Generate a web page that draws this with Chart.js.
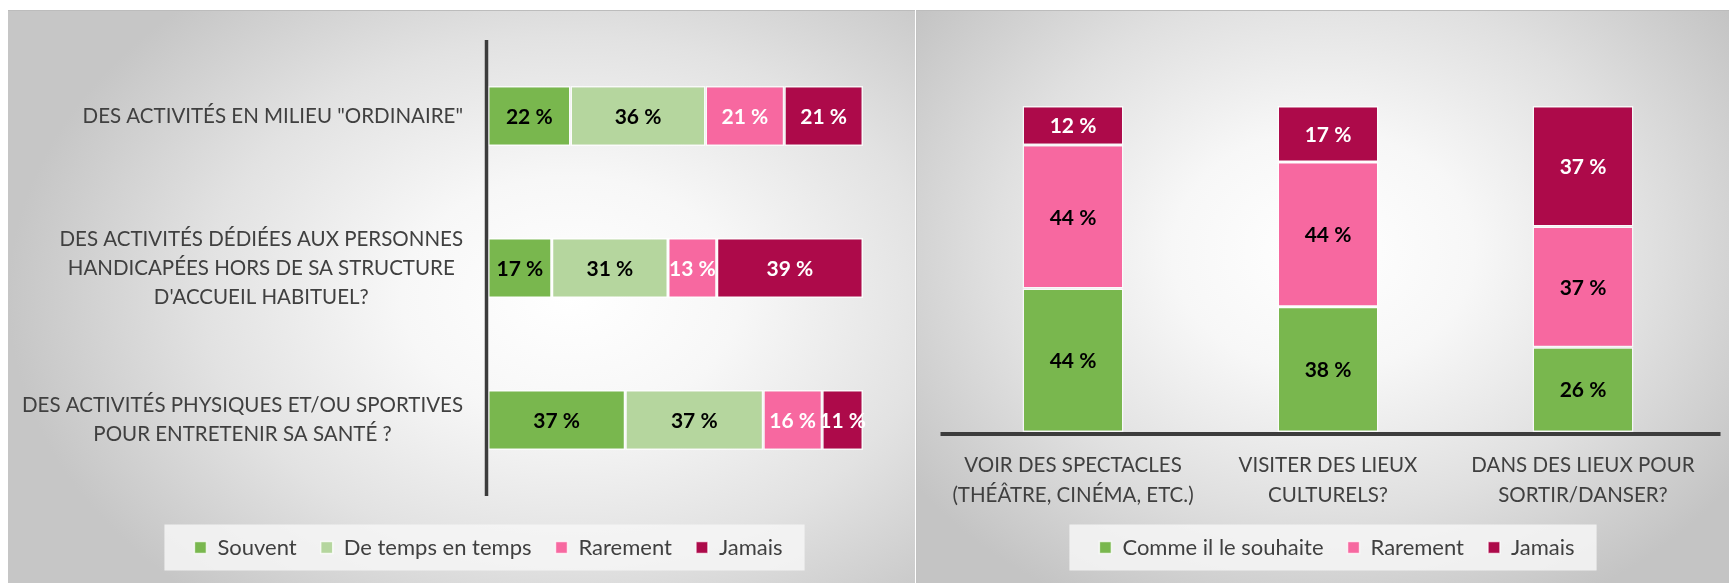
<!DOCTYPE html>
<html>
<head>
<meta charset="utf-8">
<script src="https://cdn.jsdelivr.net/npm/chart.js@4.4.0/dist/chart.umd.min.js"></script>
<style>
  html, body { margin: 0; padding: 0; background: #fff; }
  body { width: 1729px; height: 583px; position: relative; overflow: hidden; }
  .panel { position: absolute; top: 10px; height: 573px; border-top: 1px solid #bcbcbc; box-sizing: border-box; overflow: hidden; }
  #p1 { left: 8px; width: 907px; background: radial-gradient(ellipse 62% 70% at 62% 50%, #ffffff 0%, #f7f7f7 30%, #e2e2e2 65%, #c6c6c6 100%); }
  #p2 { left: 916px; width: 813px; background: radial-gradient(ellipse 62% 70% at 50% 42%, #ffffff 0%, #f7f7f7 30%, #e0e0e0 65%, #c4c4c4 100%); border-left: 1px solid #c2c2c2; }
  canvas { position: absolute; left: 0; top: 0; }
</style>
</head>
<body>
<div class="panel" id="p1"><canvas id="graf1"></canvas></div>
<div class="panel" id="p2"><canvas id="graf2"></canvas></div>
<script>
// -------------------- données --------------------
const activites = [
  'DES ACTIVITÉS EN MILIEU "ORDINAIRE"',
  ['DES ACTIVITÉS DÉDIÉES AUX PERSONNES', 'HANDICAPÉES HORS DE SA STRUCTURE', "D'ACCUEIL HABITUEL?"],
  ['DES ACTIVITÉS PHYSIQUES ET/OU SPORTIVES', 'POUR ENTRETENIR SA SANTÉ ?']
];
const souvent = [22, 17, 36.6];
const deTempsEnTemps = [36, 31, 36.8];
const rarement1 = [21, 13, 15.7];
const jamais1 = [21, 39, 10.9];

const sorties = [
  ['VOIR DES SPECTACLES', '(THÉÂTRE, CINÉMA, ETC.)'],
  ['VISITER DES LIEUX', 'CULTURELS?'],
  ['DANS DES LIEUX POUR', 'SORTIR/DANSER?']
];
const commeIlLeSouhaite = [44, 38.4, 26];
const rarement2 = [44, 44.4, 37];
const jamais2 = [12, 17.2, 37];

// couleurs
const VERT = '#79b74e', VERT_CLAIR = '#b5d69e', ROSE = '#f768a0', BORDEAUX = '#ad0a4a';
const TEXTE = '#404040';

Chart.defaults.font.family = 'Lato, "Open Sans", sans-serif';
Chart.defaults.color = TEXTE;
Chart.defaults.animation = false;

function setSize(id, w, h) {
  const c = document.getElementById(id);
  c.width = w; c.height = h;
  c.style.width = w + 'px'; c.style.height = h + 'px';
  return c;
}

// étiquettes de valeur au centre des barres
const valeurs = {
  id: 'valeurs',
  afterDatasetsDraw(chart) {
    const ctx = chart.ctx;
    ctx.save();
    ctx.font = 'bold 21px Lato, sans-serif';
    ctx.textAlign = 'center';
    ctx.textBaseline = 'middle';
    chart.data.datasets.forEach((ds, i) => {
      const meta = chart.getDatasetMeta(i);
      meta.data.forEach((bar, j) => {
        const p = bar.getCenterPoint();
        ctx.fillStyle = ds.labelColor;
        ctx.fillText(Math.round(ds.data[j]) + ' %', p.x, p.y + 1);
      });
    });
    ctx.restore();
  }
};

// fond de la légende
const fondLegende = {
  id: 'fondLegende',
  beforeDraw(chart) {
    const lg = chart.legend;
    if (!lg || !lg.legendHitBoxes.length) return;
    const hb = lg.legendHitBoxes;
    const x0 = hb[0].left - 30;
    const x1 = hb[hb.length - 1].left + hb[hb.length - 1].width + 22;
    const yc = hb[0].top + hb[0].height / 2;
    const ctx = chart.ctx;
    ctx.save();
    ctx.fillStyle = 'rgba(246,246,246,0.85)';
    ctx.fillRect(x0, yc - 23, x1 - x0, 46);
    ctx.restore();
  }
};

// -------------------- graphique 1 : barres horizontales --------------------
const axeVertical = {
  id: 'axeVertical',
  afterDatasetsDraw(chart) {
    const a = chart.chartArea, ctx = chart.ctx;
    ctx.save();
    ctx.strokeStyle = '#3c3c3c';
    ctx.lineWidth = 3.5;
    ctx.beginPath();
    ctx.moveTo(a.left - 1.5, a.top);
    ctx.lineTo(a.left - 1.5, a.bottom);
    ctx.stroke();
    ctx.restore();
  }
};

const libellesBloc = {
  id: 'libellesBloc',
  afterDraw(chart) {
    const ctx = chart.ctx, y = chart.scales.y, a = chart.chartArea;
    ctx.save();
    ctx.font = '20.5px Lato, sans-serif';
    ctx.fillStyle = TEXTE;
    ctx.textAlign = 'center';
    ctx.textBaseline = 'middle';
    chart.data.labels.forEach((lab, i) => {
      const lignes = Array.isArray(lab) ? lab : [lab];
      const large = Math.max(...lignes.map(l => ctx.measureText(l).width));
      const cx = a.left - 25 - large / 2;
      const cy = y.getPixelForValue(i);
      lignes.forEach((l, k) => {
        ctx.fillText(l, cx, cy + (k - (lignes.length - 1) / 2) * 29);
      });
    });
    ctx.restore();
  }
};

setSize('graf1', 907, 573);
new Chart(document.getElementById('graf1'), {
  type: 'bar',
  data: {
    labels: activites,
    datasets: [
      { label: 'Souvent', data: souvent, backgroundColor: VERT, labelColor: '#000' },
      { label: 'De temps en temps', data: deTempsEnTemps, backgroundColor: VERT_CLAIR, labelColor: '#000' },
      { label: 'Rarement', data: rarement1, backgroundColor: ROSE, labelColor: '#fff' },
      { label: 'Jamais', data: jamais1, backgroundColor: BORDEAUX, labelColor: '#fff' }
    ].map(d => Object.assign(d, {
      borderColor: 'rgba(255,255,255,0.75)', borderWidth: 1.5, borderSkipped: false,
      categoryPercentage: 1, barPercentage: 0.395
    }))
  },
  options: {
    indexAxis: 'y',
    responsive: false,
    layout: { padding: { top: 29, left: 106, right: 52, bottom: 15.5 } },
    scales: {
      x: {
        stacked: true, min: 0, max: 100,
        grid: { display: false }, border: { display: false }, ticks: { display: false },
        afterFit: s => { s.height = 16.5; }
      },
      y: {
        stacked: true,
        grid: { display: false }, border: { display: false }, ticks: { display: false },
        afterFit: s => { s.width = 374; }
      }
    },
    plugins: {
      legend: {
        position: 'bottom',
        labels: { boxWidth: 12, boxHeight: 12, padding: 24, font: { size: 22 }, color: TEXTE }
      },
      tooltip: { enabled: false }
    }
  },
  plugins: [fondLegende, axeVertical, valeurs, libellesBloc]
});

// -------------------- graphique 2 : colonnes empilées --------------------
const axeHorizontal = {
  id: 'axeHorizontal',
  afterDatasetsDraw(chart) {
    const a = chart.chartArea, ctx = chart.ctx;
    ctx.save();
    ctx.strokeStyle = '#3c3c3c';
    ctx.lineWidth = 4;
    ctx.beginPath();
    ctx.moveTo(a.left - 5, a.bottom + 2);
    ctx.lineTo(a.right + 10, a.bottom + 2);
    ctx.stroke();
    ctx.restore();
  }
};

setSize('graf2', 813, 573);
new Chart(document.getElementById('graf2'), {
  type: 'bar',
  data: {
    labels: sorties,
    datasets: [
      { label: 'Comme il le souhaite', data: commeIlLeSouhaite, backgroundColor: VERT, labelColor: '#000' },
      { label: 'Rarement', data: rarement2, backgroundColor: ROSE, labelColor: '#000' },
      { label: 'Jamais', data: jamais2, backgroundColor: BORDEAUX, labelColor: '#fff' }
    ].map(d => Object.assign(d, {
      borderColor: 'rgba(255,255,255,0.75)', borderWidth: 1.5, borderSkipped: false,
      categoryPercentage: 1, barPercentage: 0.396
    }))
  },
  options: {
    responsive: false,
    layout: { padding: { top: 95, left: 28.5, right: 1.5, bottom: 15.5 } },
    scales: {
      x: {
        stacked: true,
        grid: { display: false }, border: { display: false },
        ticks: { padding: 10.5, font: { size: 20.5, lineHeight: 1.45 }, color: TEXTE, maxRotation: 0, autoSkip: false },
        afterFit: s => { s.height = 80.5; }
      },
      y: {
        position: 'right',
        stacked: true, min: 0, max: 100,
        grid: { display: false }, border: { display: false }, ticks: { display: false },
        afterFit: s => { s.width = 18; }
      }
    },
    plugins: {
      legend: {
        position: 'bottom',
        labels: { boxWidth: 12, boxHeight: 12, padding: 24, font: { size: 22 }, color: TEXTE }
      },
      tooltip: { enabled: false }
    }
  },
  plugins: [fondLegende, axeHorizontal, valeurs]
});
</script>
</body>
</html>
